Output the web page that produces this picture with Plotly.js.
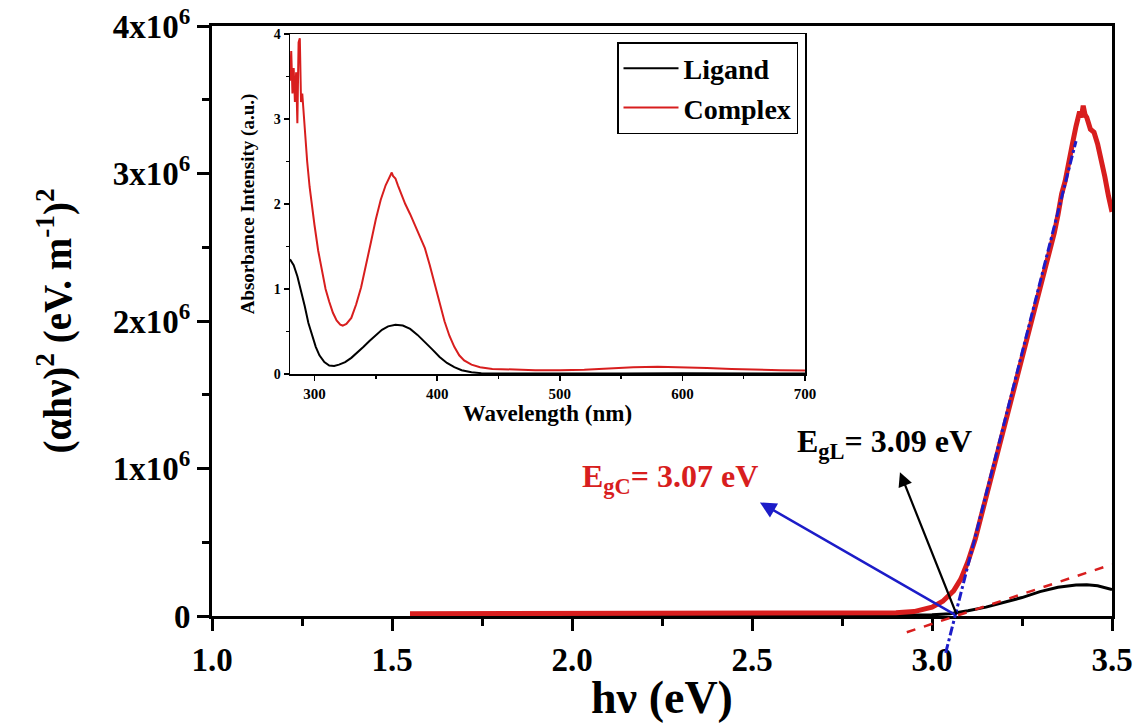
<!DOCTYPE html>
<html><head><meta charset="utf-8">
<script src="https://cdn.plot.ly/plotly-3.0.1.min.js"></script>
<style>html,body{margin:0;padding:0;background:#fff}#chart{width:1140px;height:723px}</style>
</head><body><div id="chart"></div>
<script>
// ---- Main Tauc plot data (y in units of 10^6 (eV.m^-1)^2) ----
const complexE = [1.55, 1.8, 2.0, 2.2, 2.4, 2.6, 2.8, 2.9, 2.95, 3.0, 3.03, 3.06, 3.08, 3.1, 3.12, 3.15, 3.18, 3.2, 3.23, 3.26, 3.29, 3.32, 3.34, 3.35, 3.36, 3.37, 3.38, 3.39, 3.40, 3.41, 3.415, 3.42, 3.425, 3.43, 3.44, 3.45, 3.46, 3.47, 3.48, 3.49, 3.5];
const complexY = [0.015, 0.015, 0.015, 0.015, 0.015, 0.016, 0.018, 0.022, 0.03, 0.06, 0.1, 0.17, 0.25, 0.37, 0.52, 0.8, 1.08, 1.27, 1.56, 1.85, 2.14, 2.42, 2.6, 2.72, 2.86, 2.95, 3.1, 3.2, 3.32, 3.42, 3.38, 3.46, 3.40, 3.38, 3.3, 3.28, 3.2, 3.1, 2.98, 2.85, 2.74];
const ligandE = [1.55, 2.0, 2.5, 2.9, 3.0, 3.05, 3.08, 3.1, 3.15, 3.2, 3.25, 3.3, 3.35, 3.4, 3.43, 3.46, 3.5];
const ligandY = [0.005, 0.005, 0.005, 0.005, 0.008, 0.015, 0.025, 0.035, 0.06, 0.09, 0.125, 0.165, 0.195, 0.21, 0.212, 0.205, 0.18];
// tangent (fit) lines
const fitComplexE = [3.038, 3.40];
const fitComplexY = [-0.25, 3.22];
const fitLigandE = [2.93, 3.5];
const fitLigandY = [-0.11, 0.35];
// arrows: tail at the intercept, tip pointing to labels
const arrowTail = [3.07, 0.0];
const arrowTipC = [2.522, 0.77];
const arrowTipL = [2.911, 0.975];
const labelC = {text: 'E<sub>gC</sub>= 3.07 eV', x: 2.272, y: 0.93};
const labelL = {text: 'E<sub>gL</sub>= 3.09 eV', x: 2.869, y: 1.17};
const yTickVals = [0, 1, 2, 3, 4];
const yTickText = ['0', '1x10<sup>6</sup>', '2x10<sup>6</sup>', '3x10<sup>6</sup>', '4x10<sup>6</sup>'];

// ---- Inset absorbance data ----
const wlComplex = [280, 281, 282, 283, 284, 285, 286, 287, 288, 289, 290, 292, 294, 296, 298, 300, 303, 306, 309, 312, 315, 318, 321, 323, 326, 330, 334, 338, 342, 346, 350, 354, 358, 361, 363, 364, 366, 368, 371, 374, 378, 382, 386, 390, 394, 398, 402, 406, 410, 414, 418, 422, 428, 435, 445, 460, 480, 500, 520, 540, 560, 580, 600, 620, 640, 660, 680, 700];
const absComplex = [3.45, 3.8, 3.3, 3.6, 3.2, 3.55, 2.95, 3.9, 3.95, 3.2, 3.3, 2.85, 2.5, 2.2, 1.95, 1.75, 1.45, 1.2, 1.0, 0.85, 0.72, 0.63, 0.58, 0.57, 0.59, 0.66, 0.82, 1.02, 1.27, 1.55, 1.82, 2.05, 2.22, 2.32, 2.37, 2.33, 2.3, 2.22, 2.1, 2.0, 1.88, 1.75, 1.62, 1.48, 1.28, 1.05, 0.82, 0.62, 0.45, 0.32, 0.22, 0.16, 0.11, 0.08, 0.06, 0.05, 0.045, 0.045, 0.05, 0.065, 0.08, 0.085, 0.08, 0.07, 0.06, 0.05, 0.045, 0.04];
const wlLigand = [280, 283, 286, 289, 292, 295, 298, 301, 304, 308, 312, 316, 320, 325, 330, 335, 340, 345, 350, 355, 360, 366, 372, 378, 384, 390, 396, 402, 408, 414, 420, 428, 436, 450, 500, 550, 600, 650, 700];
const absLigand = [1.35, 1.28, 1.15, 0.98, 0.8, 0.6, 0.45, 0.32, 0.22, 0.14, 0.1, 0.095, 0.11, 0.14, 0.19, 0.25, 0.32, 0.39, 0.46, 0.52, 0.56, 0.58, 0.57, 0.53, 0.46, 0.38, 0.29, 0.2, 0.13, 0.08, 0.045, 0.02, 0.01, 0.005, 0.003, 0.005, 0.01, 0.008, 0.005];

const RED = '#d81e1e';
const BLUE = '#1c1cc8';
const FONT = 'Liberation Serif, Times New Roman, serif';

// ---- geometry ----
const W = 1140, H = 723;
const M = {l: 212, r: 28, t: 26, b: 60};
const plotH = H - M.t - M.b;          // paper plot height in px
const axisBottomPx = 616;             // y pixel of main x-axis
const d0 = (H - M.b - axisBottomPx) / plotH;
const mainPx = axisBottomPx - M.t;    // px of main y range
const yMax = 4;
const yOverMin = -(H - M.b - axisBottomPx) / mainPx * yMax;

const traces = [
  {x: ligandE, y: ligandY, xaxis: 'x', yaxis: 'y', mode: 'lines', line: {color: '#000', width: 3}, showlegend: false, name: 'Ligand'},
  {x: complexE, y: complexY, xaxis: 'x', yaxis: 'y', mode: 'lines', line: {color: RED, width: 5}, showlegend: false, name: 'Complex'},
  {x: fitComplexE, y: fitComplexY, xaxis: 'x3', yaxis: 'y3', mode: 'lines', line: {color: BLUE, width: 3, dash: 'dashdot'}, showlegend: false},
  {x: fitLigandE, y: fitLigandY, xaxis: 'x3', yaxis: 'y3', mode: 'lines', line: {color: RED, width: 2.5, dash: 'dash'}, showlegend: false},
  {x: wlLigand, y: absLigand, xaxis: 'x2', yaxis: 'y2', mode: 'lines', line: {color: '#000', width: 2}, name: 'Ligand'},
  {x: wlComplex, y: absComplex, xaxis: 'x2', yaxis: 'y2', mode: 'lines', line: {color: RED, width: 2}, name: 'Complex'}
];

const boldFont = (size, color) => ({family: FONT, size: size, color: color || '#000', weight: 'bold'});

const layout = {
  width: W, height: H,
  margin: M,
  paper_bgcolor: '#fff',
  plot_bgcolor: 'rgba(0,0,0,0)',
  showlegend: true,
  xaxis: {
    domain: [0, 1], anchor: 'y', range: [1.0, 3.5],
    tickvals: [1.0, 1.5, 2.0, 2.5, 3.0, 3.5], tickformat: '.1f',
    ticks: 'outside', ticklen: 12, tickwidth: 3, tickcolor: '#000',
    minor: {dtick: 0.25, ticks: 'outside', ticklen: 7, tickwidth: 3, tickcolor: '#000', showgrid: false},
    showline: true, linewidth: 3, linecolor: '#000', mirror: true,
    showgrid: false, zeroline: false, automargin: false,
    tickfont: boldFont(33),
    title: {text: 'hν (eV)', font: boldFont(46), standoff: 0}
  },
  yaxis: {
    domain: [d0, 1], anchor: 'x', range: [0, yMax],
    tickvals: yTickVals, ticktext: yTickText,
    ticks: 'outside', ticklen: 12, tickwidth: 3, tickcolor: '#000',
    minor: {dtick: 0.5, ticks: 'outside', ticklen: 7, tickwidth: 3, tickcolor: '#000', showgrid: false},
    showline: true, linewidth: 3, linecolor: '#000', mirror: true,
    showgrid: false, zeroline: false, automargin: false,
    tickfont: boldFont(33),
    title: {text: '(αhν)<sup>2</sup> (eV. m<sup>-1</sup>)<sup>2</sup>', font: boldFont(39), standoff: 30}
  },
  xaxis3: {domain: [0, 1], anchor: 'y3', range: [1.0, 3.5], visible: false, fixedrange: true},
  yaxis3: {domain: [0, 1], anchor: 'x3', range: [yOverMin, yMax], visible: false, fixedrange: true},
  xaxis2: {
    domain: [(290 - M.l) / 900, (805 - M.l) / 900], anchor: 'y2', range: [280, 700],
    tickvals: [300, 400, 500, 600, 700],
    ticks: 'outside', ticklen: 5, tickwidth: 1.5, tickcolor: '#000',
    minor: {dtick: 50, ticks: 'outside', ticklen: 3, tickwidth: 1.5, tickcolor: '#000', showgrid: false},
    showline: true, linewidth: 1.5, linecolor: '#000', mirror: true,
    showgrid: false, zeroline: false, automargin: false,
    tickfont: boldFont(15),
    title: {text: 'Wavelength (nm)', font: boldFont(23), standoff: 0}
  },
  yaxis2: {
    domain: [(H - M.b - 374) / plotH, (H - M.b - 34) / plotH], anchor: 'x2', range: [0, 4],
    tickvals: [0, 1, 2, 3, 4],
    ticks: 'outside', ticklen: 5, tickwidth: 1.5, tickcolor: '#000',
    minor: {dtick: 0.5, ticks: 'outside', ticklen: 3, tickwidth: 1.5, tickcolor: '#000', showgrid: false},
    showline: true, linewidth: 1.5, linecolor: '#000', mirror: true,
    showgrid: false, zeroline: false, automargin: false,
    tickfont: boldFont(14),
    title: {text: 'Absorbance Intensity (a.u.)', font: boldFont(19), standoff: 14}
  },
  legend: {
    x: (798 - M.l) / 900, xanchor: 'right', y: (H - M.b - 42) / plotH, yanchor: 'top',
    bgcolor: '#fff', bordercolor: '#000', borderwidth: 1.5,
    font: boldFont(28), itemwidth: 55, tracegroupgap: 0
  },
  annotations: [
    {x: arrowTipC[0], y: arrowTipC[1], ax: arrowTail[0], ay: arrowTail[1], xref: 'x', yref: 'y', axref: 'x', ayref: 'y',
     text: '', showarrow: true, arrowhead: 2, arrowsize: 1.3, arrowwidth: 2.5, arrowcolor: BLUE},
    {x: arrowTipL[0], y: arrowTipL[1], ax: arrowTail[0], ay: arrowTail[1], xref: 'x', yref: 'y', axref: 'x', ayref: 'y',
     text: '', showarrow: true, arrowhead: 2, arrowsize: 1.3, arrowwidth: 2.2, arrowcolor: '#000'},
    {x: labelC.x, y: labelC.y, xref: 'x', yref: 'y', text: labelC.text, showarrow: false, font: boldFont(32, RED)},
    {x: labelL.x, y: labelL.y, xref: 'x', yref: 'y', text: labelL.text, showarrow: false, font: boldFont(32, '#000')}
  ]
};

Plotly.newPlot('chart', traces, layout, {displayModeBar: false, staticPlot: true});
</script>
</body></html>
